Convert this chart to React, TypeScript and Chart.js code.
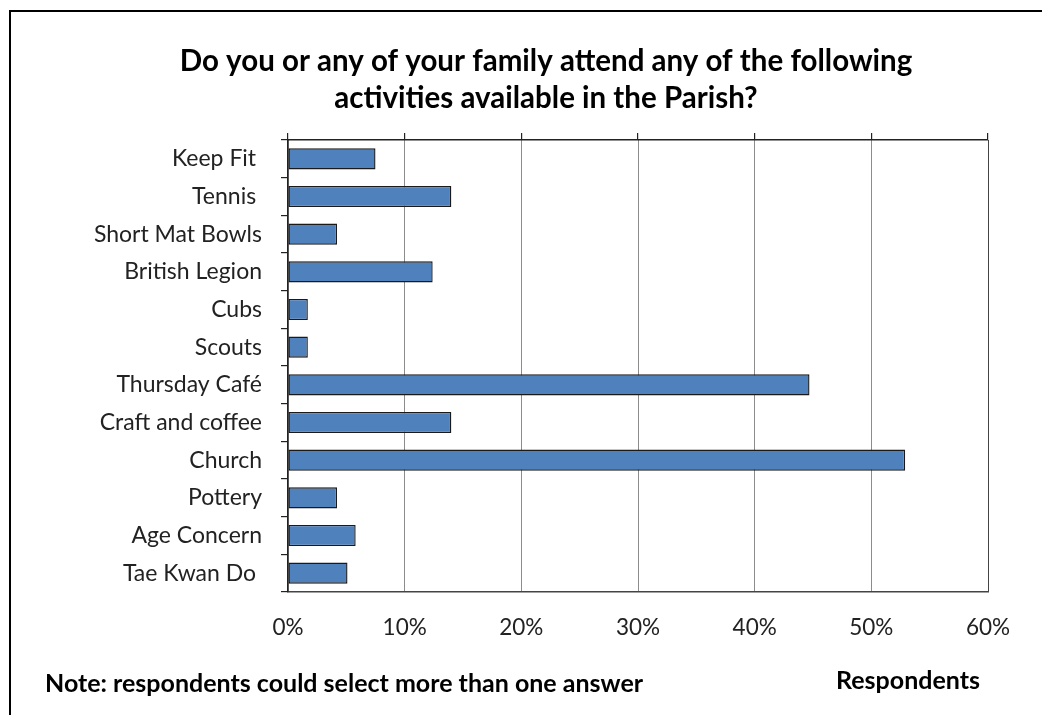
import React, { useEffect, useRef } from "react";
import { Chart, registerables } from "chart.js";

Chart.register(...registerables);

const categories = [
  "Keep Fit ",
  "Tennis ",
  "Short Mat Bowls",
  "British Legion",
  "Cubs",
  "Scouts",
  "Thursday Café",
  "Craft and coffee",
  "Church",
  "Pottery",
  "Age Concern",
  "Tae Kwan Do ",
];

const respondents = [7.5, 14.0, 4.2, 12.4, 1.7, 1.7, 44.7, 14.0, 52.9, 4.2, 5.8, 5.1];

const xTicks = [0, 10, 20, 30, 40, 50, 60];

const titleLines = [
  "Do you or any of your family attend any of the following",
  "activities available in the Parish?",
];
const noteText = "Note: respondents could select more than one answer";
const axisLabel = "Respondents";

const FONT = "Lato, 'Open Sans', sans-serif";

const decorPlugin = {
  id: "decor",
  beforeDraw(chart: any) {
    const ctx = chart.ctx;
    ctx.save();
    ctx.fillStyle = "#ffffff";
    ctx.fillRect(0, 0, chart.width, chart.height);
    ctx.fillStyle = "#000000";
    ctx.fillRect(9, 10, 2, chart.height);
    ctx.fillRect(9, 10, chart.width, 2);
    ctx.restore();
  },
  afterDraw(chart: any) {
    const ctx = chart.ctx;
    ctx.save();
    ctx.fillStyle = "#000000";
    ctx.textBaseline = "alphabetic";
    ctx.font = `bold 29.5px ${FONT}`;
    ctx.textAlign = "center";
    ctx.fillText(titleLines[0], 546, 71);
    ctx.fillText(titleLines[1], 546, 108);
    ctx.font = `bold 25px ${FONT}`;
    ctx.textAlign = "left";
    ctx.fillText(noteText, 45, 692);
    ctx.fillText(axisLabel, 836, 689);
    ctx.restore();
  },
};

export default function App() {
  const ref = useRef<HTMLCanvasElement | null>(null);

  useEffect(() => {
    if (!ref.current) return;
    const chart = new Chart(ref.current, {
      type: "bar",
      data: {
        labels: categories,
        datasets: [
          {
            label: "Respondents",
            data: respondents,
            backgroundColor: "#4F81BD",
            borderColor: "#1a1a1a",
            borderWidth: 1.4,
            borderSkipped: false,
            barPercentage: 0.56,
            categoryPercentage: 1,
            xAxisID: "x",
            yAxisID: "y",
          },
        ],
      },
      options: {
        indexAxis: "y",
        responsive: false,
        animation: false,
        layout: { padding: { left: 0, right: 54, top: 133, bottom: 63 } },
        plugins: {
          legend: { display: false },
          title: { display: false },
          tooltip: { enabled: false },
        },
        scales: {
          x: {
            type: "linear",
            position: "bottom",
            min: 0,
            max: 60,
            afterBuildTicks: (scale: any) => {
              scale.ticks = xTicks.map((v) => ({ value: v }));
            },
            afterFit: (scale: any) => {
              scale.height = 60;
            },
            ticks: {
              stepSize: 10,
              padding: 22,
              color: "#222222",
              font: { family: FONT, size: 22.5 },
              callback: (v: any) => `${v}%`,
            },
            grid: {
              drawTicks: false,
              color: (c: any) => (c.tick && c.tick.value === 60 ? "#444444" : "#8c8c8c"),
              lineWidth: 1,
            },
            border: { display: true, color: "#444444", width: 1.5 },
          },
          x2: {
            type: "linear",
            position: "top",
            min: 0,
            max: 60,
            afterBuildTicks: (scale: any) => {
              scale.ticks = xTicks.map((v) => ({ value: v }));
            },
            afterFit: (scale: any) => {
              scale.height = 7;
            },
            ticks: { display: false },
            grid: {
              drawOnChartArea: false,
              drawTicks: true,
              tickLength: 7,
              color: "#222222",
              lineWidth: 1.2,
            },
            border: { display: true, color: "#222222", width: 1.5 },
          },
          y: {
            type: "category",
            position: "left",
            offset: true,
            afterFit: (scale: any) => {
              scale.width = 288;
            },
            ticks: {
              padding: 19,
              color: "#222222",
              font: { family: FONT, size: 23 },
              autoSkip: false,
            },
            grid: {
              offset: true,
              drawOnChartArea: false,
              drawTicks: true,
              tickLength: 7,
              color: "#222222",
              lineWidth: 1.2,
            },
            border: { display: true, color: "#222222", width: 1.5 },
          },
        },
      },
      plugins: [decorPlugin],
    } as any);
    return () => chart.destroy();
  }, []);

  return (
    <div style={{ position: "fixed", left: 0, top: 0, width: 1042, height: 715, overflow: "hidden", background: "#fff" }}>
      <canvas ref={ref} width={1042} height={715} style={{ display: "block", width: 1042, height: 715 }} />
    </div>
  );
}
